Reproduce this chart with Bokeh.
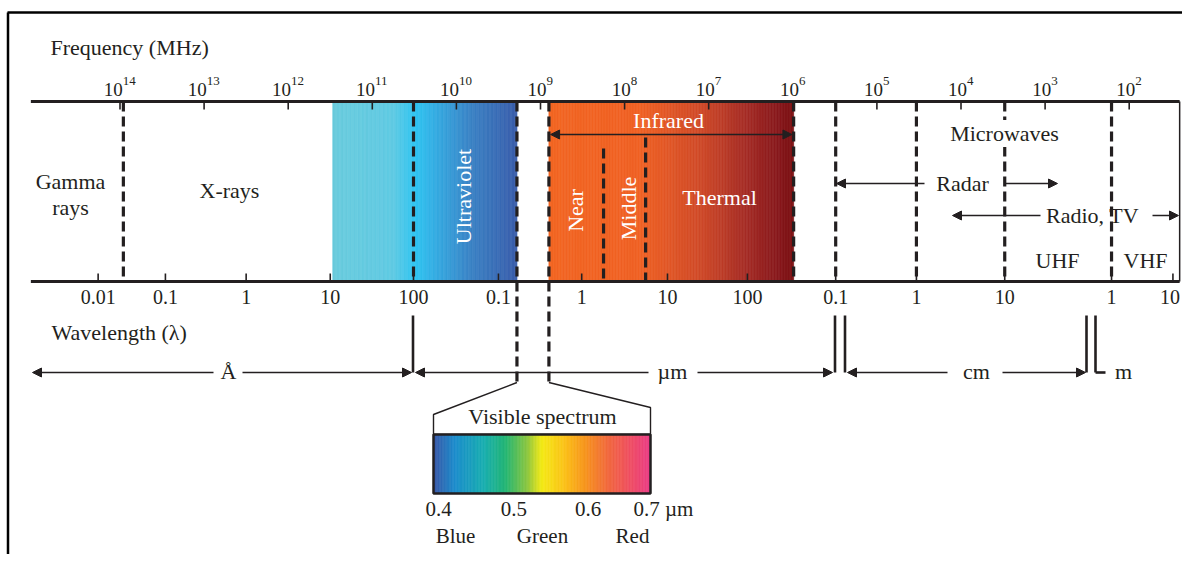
import numpy as np
from bokeh.plotting import figure
from bokeh.models import Range1d, Arrow, NormalHead
from bokeh.embed import file_html
from bokeh.resources import INLINE
from bokeh.core.properties import value

# ---------------- data ----------------
# top scale: frequency decades (MHz)
freq_exponents = [14, 13, 12, 11, 10, 9, 8, 7, 6, 5, 4, 3, 2]
# bottom scale: wavelength labels, their unit, and their position in decades below 10^14 MHz
wl_labels = ["0.01", "0.1", "1", "10", "100", "0.1", "1", "10", "100", "0.1", "1", "10", "1", "10"]
wl_units = ["Å"] * 5 + ["µm"] * 4 + ["cm"] * 3 + ["m"] * 2
wl_pos = [-0.26, 0.54, 1.50, 2.50, 3.49, 4.50, 5.49, 6.51, 7.46, 8.51, 9.47, 10.52, 11.79, 12.52]

# band boundaries, in decades below 10^14 MHz
band_left, band_right = -1.06, 12.60
gamma_xray = 0.04
uv_start, uv_mid, uv_end = 2.53, 3.49, 4.72
ir_start, near_middle, middle_thermal, ir_end = 5.10, 5.75, 6.25, 8.01
micro_bounds = [8.51, 9.47, 10.52, 11.79]

# visible spectrum (µm)
vis_min, vis_max = 0.4, 0.7
vis_ticks = [0.4, 0.5, 0.6, 0.7]
vis_tick_labels = ["0.4", "0.5", "0.6", "0.7 µm"]
vis_color_names = ["Blue", "Green", "Red"]

# ---------------- style / layout ----------------
C = "#231f20"
SERIF = value("Liberation Serif")
X0, DEC = 119.5, 84.1          # pixel of 10^14 tick, pixels per decade
W, H = 1182, 554
PX0, PX1 = 0, W
VIS_X0, VIS_X1 = 433, 650      # pixel span of the visible-spectrum box


def upx(u):
    return X0 + DEC * u


p = figure(width=W, height=H, x_range=Range1d(PX0, PX1), y_range=Range1d(H, 0),
           output_backend="svg", toolbar_location=None, min_border=0,
           x_axis_location=None, y_axis_location=None, outline_line_color=None,
           background_fill_color="white", border_fill_color="white")
p.grid.visible = False
vis_scale = (VIS_X1 - VIS_X0) / (vis_max - vis_min)
p.extra_x_ranges = {
    "u": Range1d((PX0 - X0) / DEC, (PX1 - X0) / DEC),
    "vis": Range1d(vis_min - (VIS_X0 - PX0) / vis_scale, vis_min + (PX1 - VIS_X0) / vis_scale),
}

# page border
p.segment(x0=[7, 7.5], y0=[12, 12], x1=[PX1, 7.5], y1=[12, H], line_color="black", line_width=2.5)


def gradient(stops_x, stops_c, n):
    xs = np.linspace(stops_x[0], stops_x[-1], n + 1)
    rgb = np.array([[int(c[i:i + 2], 16) for i in (1, 3, 5)] for c in stops_c], float)
    mids = (xs[:-1] + xs[1:]) / 2
    cols = []
    for m in mids:
        r, g, b = (int(round(np.interp(m, stops_x, rgb[:, k]))) for k in range(3))
        cols.append("#%02x%02x%02x" % (r, g, b))
    return xs[:-1], xs[1:], cols


Y_TOP, Y_BOT = 101, 281

# ultraviolet gradient
uv_stop_c = ["#69cbdd", "#5fcae3", "#2ec4f1", "#35a7df", "#3a80c3", "#3a5dab"]
uv_stop_x = [uv_start, uv_start + 0.72, uv_mid + 0.03, uv_mid + 0.31, uv_mid + 0.71, uv_end]
l, r, c = gradient(uv_stop_x, uv_stop_c, 140)
p.quad(left=l, right=r, top=Y_TOP, bottom=Y_BOT, fill_color=c, line_color=c, line_width=0.7, x_range_name="u")

# infrared gradient
ir_stop_c = ["#f26522", "#ef6124", "#d04a28", "#a92f27", "#86171b", "#7c1215"]
ir_stop_x = [ir_start, middle_thermal - 0.05, middle_thermal + 0.65, middle_thermal + 1.15, ir_end - 0.16, ir_end]
l, r, c = gradient(ir_stop_x, ir_stop_c, 160)
p.quad(left=l, right=r, top=Y_TOP, bottom=Y_BOT, fill_color=c, line_color=c, line_width=0.7, x_range_name="u")

# band outline
p.segment(x0=[band_left, band_left], y0=[Y_TOP, Y_BOT], x1=[band_right, band_right], y1=[Y_TOP, Y_BOT],
          line_color=C, line_width=3, x_range_name="u")
p.segment(x0=[band_right], y0=[Y_TOP], x1=[band_right], y1=[Y_BOT], line_color=C, line_width=1.5, x_range_name="u")

# ticks
freq_u = [14 - e for e in freq_exponents]
p.segment(x0=freq_u, y0=Y_TOP, x1=freq_u, y1=Y_TOP + 8, line_color=C, line_width=1.6, x_range_name="u")
p.segment(x0=wl_pos, y0=Y_BOT, x1=wl_pos, y1=Y_BOT - 8, line_color=C, line_width=1.6, x_range_name="u")

# dashed boundaries
dash_x = [gamma_xray, uv_mid, uv_end, ir_start, near_middle, middle_thermal, ir_end] + micro_bounds
dash_y0 = [Y_TOP, Y_TOP, Y_TOP, Y_TOP, 148, 137, Y_TOP] + [Y_TOP] * 4
dash_y1 = [Y_BOT, Y_BOT, 386, 383, Y_BOT, Y_BOT, Y_BOT] + [Y_BOT] * 4
p.segment(x0=dash_x, y0=dash_y0, x1=dash_x, y1=dash_y1, line_color=C, line_width=3.2,
          line_dash="10 5", x_range_name="u")

# frequency labels 10^n
base_w, exp_digit_w = 19.0, 6.8
offs_b, offs_e = [], []
for e in freq_exponents:
    tot = base_w + exp_digit_w * len(str(e))
    offs_b.append(-tot / 2)
    offs_e.append(-tot / 2 + base_w)
p.text(x=freq_u, y=[89] * len(freq_u), text=["10"] * len(freq_u), x_offset=offs_b,
       text_align="left", text_baseline="middle", text_font=SERIF, text_font_size="19px",
       text_color=C, x_range_name="u")
p.text(x=freq_u, y=[80] * len(freq_u), text=[str(e) for e in freq_exponents], x_offset=offs_e,
       text_align="left", text_baseline="middle", text_font=SERIF, text_font_size="13px",
       text_color=C, x_range_name="u")

# wavelength labels
wl_offsets = [0] * (len(wl_pos) - 1) + [-3]
p.text(x=wl_pos, y=[296] * len(wl_pos), text=wl_labels, x_offset=wl_offsets, text_align="center",
       text_baseline="middle", text_font=SERIF, text_font_size="20px", text_color=C, x_range_name="u")


def label(txt, x, y, size="22px", color=C, align="center", angle=0.0, bg=None):
    p.text(x=[x], y=[y], text=[txt], text_align=align, text_baseline="middle", angle=angle,
           text_font=SERIF, text_font_size=size, text_color=color,
           background_fill_color=bg, padding=1)


label("Frequency (MHz)", 49, 47, align="left")
label("Wavelength (λ)", 50, 332, align="left")
label("Gamma", 70, 181)
label("rays", 70, 207)
label("X-rays", 229, 190)
label("Ultraviolet", 463, 196, color="white", angle=np.pi / 2)
label("Near", 575, 210, color="white", angle=np.pi / 2)
label("Middle", 628, 208, color="white", angle=np.pi / 2)
label("Thermal", 719, 197, color="white")
label("Infrared", 668, 120, color="white")
label("Microwaves", 1004, 133, bg="white")
label("Radar", 962, 183)
label("Radio, TV", 1092, 215)
label("UHF", 1057, 260)
label("VHF", 1145, 260)
label("Å", 228, 371)
label("µm", 672, 371)
label("cm", 976, 371)
label("m", 1123, 371)
label("Visible spectrum", 542, 416)


def head():
    return NormalHead(size=9, fill_color=C, line_color=C, line_width=1)


def arrow(x0, y0, x1, y1, both=False, rng=None):
    a = Arrow(x_start=x0, y_start=y0, x_end=x1, y_end=y1, end=head(), start=head() if both else None,
              line_color=C, line_width=1.4)
    if rng:
        a.x_range_name = rng
    p.add_layout(a)


arrow(ir_start + 0.02, 134, ir_end - 0.02, 134, both=True, rng="u")
arrow(924, 183, 836, 183)
arrow(1004, 183, 1057, 183)
arrow(1040, 215, 952, 215)
arrow(1152, 215, 1178, 215)
arrow(213, 372, 32, 372)
arrow(242, 372, 411, 372)
arrow(648, 372, 415, 372)
arrow(697, 372, 832, 372)
arrow(947, 372, 847, 372)
arrow(1002, 372, 1085, 372)

# unit separators
p.segment(x0=[412.5, 834.5, 844.5, 1086, 1095, 1095], y0=[315, 315, 315, 315, 315, 372],
          x1=[412.5, 834.5, 844.5, 1086, 1095, 1105], y1=[372, 372, 372, 372, 372, 372],
          line_color=C, line_width=2.6)

# visible spectrum funnel
p.line(x=[upx(uv_end), VIS_X0, VIS_X0, VIS_X1, VIS_X1, upx(ir_start)], y=[382, 414, 434, 434, 407, 382],
       line_color=C, line_width=1.4)

# visible spectrum gradient
vis_stop_x = [0.40, 0.43, 0.47, 0.50, 0.53, 0.55, 0.58, 0.61, 0.64, 0.67, 0.70]
vis_stop_c = ["#3b55a6", "#1b8dcc", "#19aeb0", "#22b573", "#8cc63f", "#f4ea16", "#fbc418",
              "#f7941d", "#f16a3c", "#ef5060", "#eb3c87"]
l, r, c = gradient(vis_stop_x, vis_stop_c, 150)
p.quad(left=l, right=r, top=434, bottom=493, fill_color=c, line_color=c, line_width=0.7, x_range_name="vis")
p.quad(left=[vis_min], right=[vis_max], top=[434], bottom=[493], fill_color=None, line_color=C,
       line_width=2.5, x_range_name="vis")

p.text(x=vis_ticks[:3], y=[508] * 3, text=vis_tick_labels[:3], x_offset=[5, 8, 10], text_align="center",
       text_baseline="middle", text_font=SERIF, text_font_size="21px", text_color=C, x_range_name="vis")
p.text(x=vis_ticks[3:], y=[508], text=vis_tick_labels[3:], x_offset=[-17], text_align="left",
       text_baseline="middle", text_font=SERIF, text_font_size="21px", text_color=C, x_range_name="vis")
p.text(x=[455, 542, 632], y=[535] * 3, text=vis_color_names, text_align="center", text_baseline="middle",
       text_font=SERIF, text_font_size="21px", text_color=C)

open("out.html", "w").write(file_html(p, INLINE))
